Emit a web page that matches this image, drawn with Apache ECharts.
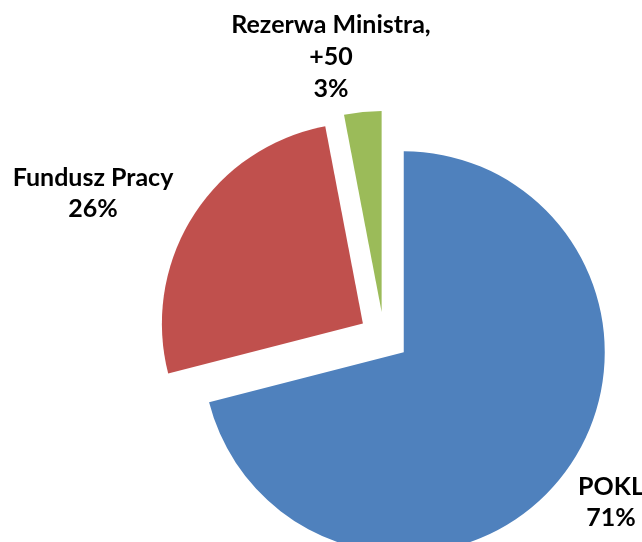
<!DOCTYPE html>
<html>
<head>
<meta charset="utf-8">
<script src="https://cdn.jsdelivr.net/npm/echarts@6/dist/echarts.min.js"></script>
<style>html,body{margin:0;padding:0;background:#fff;}#c{width:642px;height:542px;}</style>
</head>
<body>
<div id="c"></div>
<script>
const categories = ["POKL", "Fundusz Pracy", "Rezerwa Ministra, +50"];
const values = [71, 26, 3];
const colors = ["#4F81BD", "#C0504D", "#9BBB59"];
const labelPos = [[611, 502], [93, 193], [331, 57]];

const total = values.reduce((a, b) => a + b, 0);
const labelText = (i) => categories[i].replace(', ', ',\n') + '\n' + Math.round(values[i] / total * 100) + '%';

const chart = echarts.init(document.getElementById('c'), null, {renderer: 'canvas'});
chart.setOption({
  animation: false,
  backgroundColor: '#ffffff',
  series: [{
    type: 'pie',
    center: [384, 337],
    radius: [0, 201],
    startAngle: 90,
    clockwise: true,
    selectedMode: 'multiple',
    selectedOffset: 25,
    silent: true,
    label: {show: false},
    labelLine: {show: false},
    itemStyle: {borderWidth: 0},
    data: categories.map((c, i) => ({name: c, value: values[i], selected: true, itemStyle: {color: colors[i]}}))
  }],
  graphic: categories.map((c, i) => ({
    type: 'text',
    x: labelPos[i][0],
    y: labelPos[i][1],
    style: {
      text: labelText(i),
      fontFamily: 'Lato',
      fontWeight: 'bold',
      fontSize: 25,
      lineHeight: i === 2 ? 32 : 31,
      fill: '#000',
      align: 'center',
      verticalAlign: 'middle'
    }
  }))
});
</script>
</body>
</html>
